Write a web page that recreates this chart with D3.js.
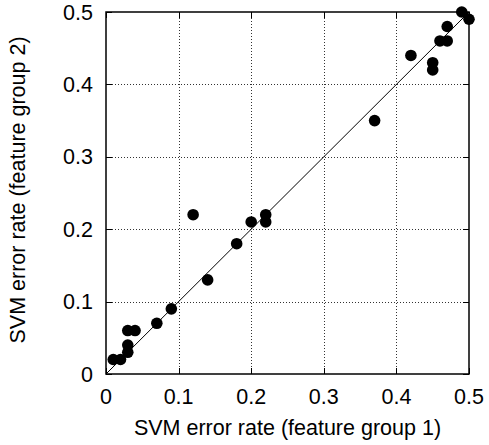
<!DOCTYPE html>
<html>
<head>
<meta charset="utf-8">
<script src="https://cdn.jsdelivr.net/npm/d3@7"></script>
<style>
  html, body { margin: 0; padding: 0; background: #fff; }
  svg { display: block; }
  text { font-family: "Liberation Sans", Arial, sans-serif; fill: #000; }
</style>
</head>
<body>
<script>
// Data
const group1 = [0.01, 0.02, 0.03, 0.03, 0.03, 0.04, 0.07, 0.09, 0.14, 0.12, 0.18, 0.20, 0.22, 0.22, 0.37, 0.42, 0.45, 0.45, 0.46, 0.47, 0.47, 0.49, 0.50];
const group2 = [0.02, 0.02, 0.03, 0.04, 0.06, 0.06, 0.07, 0.09, 0.13, 0.22, 0.18, 0.21, 0.22, 0.21, 0.35, 0.44, 0.43, 0.42, 0.46, 0.46, 0.48, 0.50, 0.49];
const xTicks = [0, 0.1, 0.2, 0.3, 0.4, 0.5];
const yTicks = [0, 0.1, 0.2, 0.3, 0.4, 0.5];
const tickLabels = ["0", "0.1", "0.2", "0.3", "0.4", "0.5"];
const xTitle = "SVM error rate (feature group 1)";
const yTitle = "SVM error rate (feature group 2)";
const diagonal = [[0, 0], [0.5, 0.5]];

const W = 489, H = 445;
const L = 106, R = 469, T = 12, B = 374;
const fontSize = 21.5;

const svg = d3.select("body").append("svg").attr("width", W).attr("height", H);

const x = d3.scaleLinear().domain([0, 0.5]).range([L, R]);
const y = d3.scaleLinear().domain([0, 0.5]).range([B, T]);
const snap = v => Math.round(v) + 0.5;

// Grid
const grid = svg.append("g").attr("shape-rendering", "crispEdges");
grid.selectAll("line.vx").data(xTicks.slice(1, -1)).join("line")
  .attr("x1", d => snap(x(d))).attr("x2", d => snap(x(d))).attr("y1", T).attr("y2", B)
  .attr("stroke", "#333").attr("stroke-width", 1).attr("stroke-dasharray", "1,2");
grid.selectAll("line.hy").data(yTicks.slice(1, -1)).join("line")
  .attr("y1", d => snap(y(d))).attr("y2", d => snap(y(d))).attr("x1", L).attr("x2", R)
  .attr("stroke", "#333").attr("stroke-width", 1).attr("stroke-dasharray", "1,2");

// Inward ticks on all four sides
const tl = 6;
const ticks = svg.append("g").attr("stroke", "#000").attr("stroke-width", 1).attr("shape-rendering", "crispEdges");
xTicks.forEach(t => {
  ticks.append("line").attr("x1", snap(x(t))).attr("x2", snap(x(t))).attr("y1", B).attr("y2", B - tl);
  ticks.append("line").attr("x1", snap(x(t))).attr("x2", snap(x(t))).attr("y1", T).attr("y2", T + tl);
});
yTicks.forEach(t => {
  ticks.append("line").attr("y1", snap(y(t))).attr("y2", snap(y(t))).attr("x1", L).attr("x2", L + tl);
  ticks.append("line").attr("y1", snap(y(t))).attr("y2", snap(y(t))).attr("x1", R).attr("x2", R - tl);
});

// Diagonal
svg.append("path")
  .attr("d", d3.line().x(d => x(d[0])).y(d => y(d[1]))(diagonal))
  .attr("stroke", "#000").attr("stroke-width", 1).attr("fill", "none");

// Points
svg.append("g").selectAll("circle").data(group1.map((v, i) => [v, group2[i]])).join("circle")
  .attr("cx", d => x(d[0])).attr("cy", d => y(d[1])).attr("r", 5.8).attr("fill", "#000");

// Border
svg.append("rect").attr("x", L).attr("y", T).attr("width", R - L).attr("height", B - T)
  .attr("fill", "none").attr("stroke", "#000").attr("stroke-width", 1.5);

// Tick labels
svg.append("g").selectAll("text").data(xTicks).join("text")
  .attr("x", d => x(d)).attr("y", 404).attr("text-anchor", "middle")
  .style("font-size", fontSize + "px").text((d, i) => tickLabels[i]);
svg.append("g").selectAll("text").data(yTicks).join("text")
  .attr("x", 93).attr("y", d => y(d) + 7.5).attr("text-anchor", "end")
  .style("font-size", fontSize + "px").text((d, i) => tickLabels[i]);

// Titles
svg.append("text").attr("x", (L + R) / 2).attr("y", 435).attr("text-anchor", "middle")
  .style("font-size", fontSize + "px").text(xTitle);
svg.append("text").attr("transform", `translate(25,${(T + B) / 2 - 3}) rotate(-90)`)
  .attr("text-anchor", "middle").style("font-size", fontSize + "px").text(yTitle);
</script>
</body>
</html>
